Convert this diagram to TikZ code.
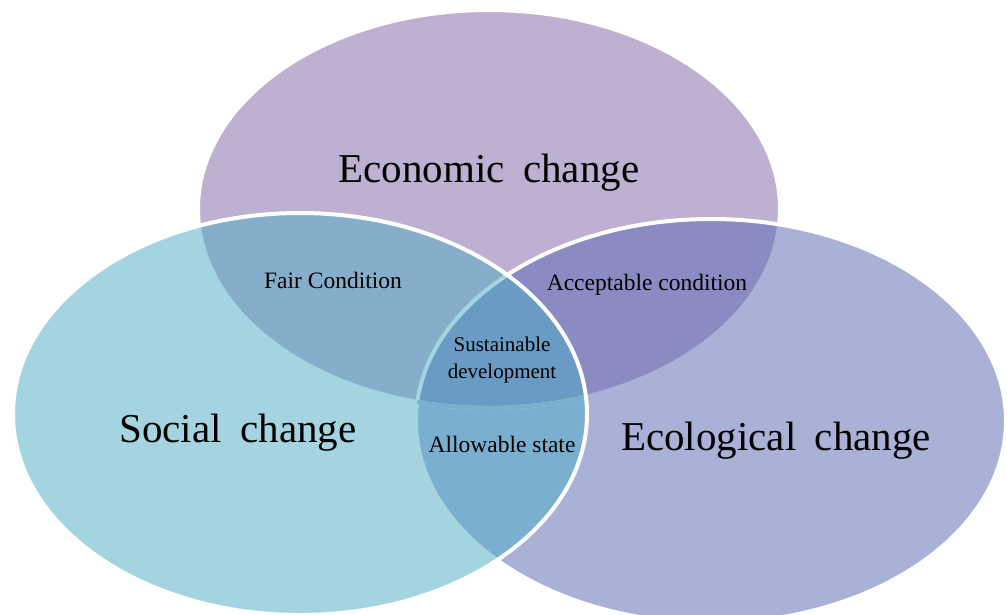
\documentclass[tikz,border=0pt]{standalone}
\usepackage{fontspec}
\setmainfont{Liberation Serif}
\usepackage{tikz}

\definecolor{econ}{RGB}{190,176,208}
\definecolor{social}{RGB}{165,212,225}
\definecolor{eco}{RGB}{170,177,215}
\definecolor{fair}{RGB}{134,173,201}
\definecolor{accept}{RGB}{138,139,194}
\definecolor{allow}{RGB}{122,175,207}
\definecolor{sustain}{RGB}{106,155,196}

% Ellipsen der drei Bereiche
\newcommand{\econEllipse}{(489,209) ellipse [x radius=291pt, y radius=199pt]}
\newcommand{\socialEllipse}{(300,414) ellipse [x radius=287pt, y radius=201pt]}
\newcommand{\ecoEllipse}{(711,421) ellipse [x radius=295pt, y radius=202pt]}

\begin{document}
\begin{tikzpicture}[x=1pt, y=-1pt,
                outline/.style={
                    draw=white,
                    line width=4pt
                },
                biglabel/.style={
                    anchor=base,
                    font={\fontsize{41}{49}\selectfont\spaceskip 0.45em\relax},
                    text=black
                },
                smalllabel/.style={
                    anchor=base,
                    font=\fontsize{23.5}{28}\selectfont,
                    text=black,
                    align=center
                }
            ]

            \useasboundingbox (0,0) rectangle (1007,614);

            % --- Wirtschaft (oben) ---
            \fill[econ] \econEllipse;
            \draw[outline] \econEllipse;

            % --- Oekologie (rechts) ---
            \fill[eco] \ecoEllipse;
            \begin{scope}
                \clip \econEllipse;
                \fill[accept] \ecoEllipse;
            \end{scope}
            \begin{scope}
                \clip \ecoEllipse;
                \draw[outline, draw=eco] \econEllipse;
            \end{scope}
            \draw[outline] \ecoEllipse;

            % --- Soziales (links) ---
            \fill[social] \socialEllipse;
            \begin{scope}
                \clip \econEllipse;
                \fill[fair] \socialEllipse;
            \end{scope}
            \begin{scope}
                \clip \ecoEllipse;
                \fill[allow] \socialEllipse;
            \end{scope}
            \begin{scope}
                \clip \econEllipse;
                \clip \ecoEllipse;
                \fill[sustain] \socialEllipse;
            \end{scope}
            % Raender darunter scheinen durch die linke Flaeche
            \begin{scope}
                \clip \socialEllipse;
                \draw[outline, draw=social] \econEllipse;
                \draw[outline, draw=social] \ecoEllipse;
            \end{scope}
            \begin{scope}
                \clip \socialEllipse;
                \clip \ecoEllipse;
                \draw[outline, draw=allow] \econEllipse;
            \end{scope}
            \draw[outline] \socialEllipse;

            % --- Beschriftungen ---
            \node[biglabel] (econLabel) at (489,182) {Economic change};
            \node[biglabel] (socialLabel) at (238,442) {Social change};
            \node[biglabel] (ecoLabel) at (776,450) {Ecological change};

            \node[smalllabel] (fairLabel) at (333,288) {Fair Condition};
            \node[smalllabel] (acceptLabel) at (647,290) {Acceptable condition};
            \node[smalllabel] (allowLabel) at (502,452) {Allowable state};
            % base liegt hier auf der zweiten Zeile
            \node[smalllabel, font=\fontsize{21}{27}\selectfont] (sustainLabel) at (502,378) {Sustainable\\development};

        \end{tikzpicture}
\end{document}
